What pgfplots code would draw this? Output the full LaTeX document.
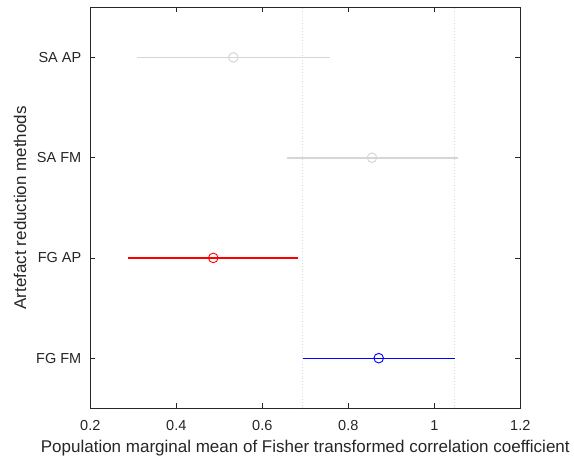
\documentclass[border=0pt]{standalone}
\usepackage{pgfplots}
\pgfplotsset{compat=1.18}
\usepackage{fontspec}
\setmainfont{Liberation Sans}
\definecolor{lg}{RGB}{214,214,214}
\definecolor{dg}{RGB}{218,218,218}
\definecolor{rr}{RGB}{255,0,0}
\definecolor{bb}{RGB}{0,0,255}
\definecolor{ax}{RGB}{38,38,38}
\begin{document}
\begin{tikzpicture}
\begin{axis}[
  scale only axis, width=430bp, height=401bp,
  xmin=0.2, xmax=1.2, ymin=0.5, ymax=4.5,
  xtick={0.2,0.4,0.6,0.8,1,1.2},
  xticklabels={0.2,0.4,0.6,0.8,1,1.2},
  ytick={1,2,3,4},
  yticklabels={FG FM,FG AP,SA FM,SA AP},
  tick align=inside, major tick length=5bp,
  tick style={ax, line width=0.7bp},
  axis line style={ax, line width=0.7bp},
  /pgf/number format/assume math mode=true,
  xticklabel style={font=\fontsize{14.5bp}{16bp}\selectfont, text=ax, anchor=base, yshift=-22.4bp},
  yticklabel style={font=\fontsize{14.5bp}{16bp}\selectfont, text=ax, xshift=-5.5bp},
  xlabel={Population marginal mean of Fisher transformed correlation coefficient},
  ylabel={Artefact reduction methods},
  every axis x label/.style={at={(axis description cs:0.5,-0.1097)}, anchor=base, font=\fontsize{17bp}{19bp}\selectfont, text=ax},
  every axis y label/.style={at={(axis description cs:-0.1495,0.5)}, rotate=90, anchor=base, font=\fontsize{17bp}{19bp}\selectfont, text=ax},
  clip=false,
]
% reference lines (CI of selected group)
\addplot[draw=dg, dotted, line width=0.9bp] coordinates {(0.6945,0.5) (0.6945,4.5)};
\addplot[draw=dg, dotted, line width=0.9bp] coordinates {(1.0465,0.5) (1.0465,4.5)};
% intervals
\addplot[draw=lg, line width=1.8bp, no marks] coordinates {(0.3086,4) (0.7567,4)}; % SA AP
\addplot[draw=lg, line width=1.8bp, no marks] coordinates {(0.6567,3) (1.0544,3)}; % SA FM
\addplot[draw=rr, color=rr, line width=1.2bp, no marks] coordinates {(0.2884,2) (0.6837,2)}; % FG AP
\addplot[draw=bb, color=bb, line width=1.2bp, no marks] coordinates {(0.6947,1) (1.0474,1)}; % FG FM
% marginal means
\addplot[only marks, mark=o, mark size=4.8bp, mark options={draw=lg, fill=white, line width=1bp}] coordinates {(0.5326,4)};
\addplot[only marks, mark=o, mark size=4.8bp, mark options={draw=lg, fill=white, line width=1bp}] coordinates {(0.8551,3)};
\addplot[only marks, mark=o, mark size=4.8bp, mark options={draw=rr, fill=white, line width=0.9bp}] coordinates {(0.4860,2)};
\addplot[only marks, mark=o, mark size=4.8bp, mark options={draw=bb, fill=white, line width=0.9bp}] coordinates {(0.8707,1)};
\end{axis}
\path (current axis.south west) ++(-90.3bp,-52.7bp) coordinate (bl);
\path (current axis.north east) ++(53.7bp,7.3bp) coordinate (tr);
\useasboundingbox (bl) rectangle (tr);
\end{tikzpicture}
\end{document}
